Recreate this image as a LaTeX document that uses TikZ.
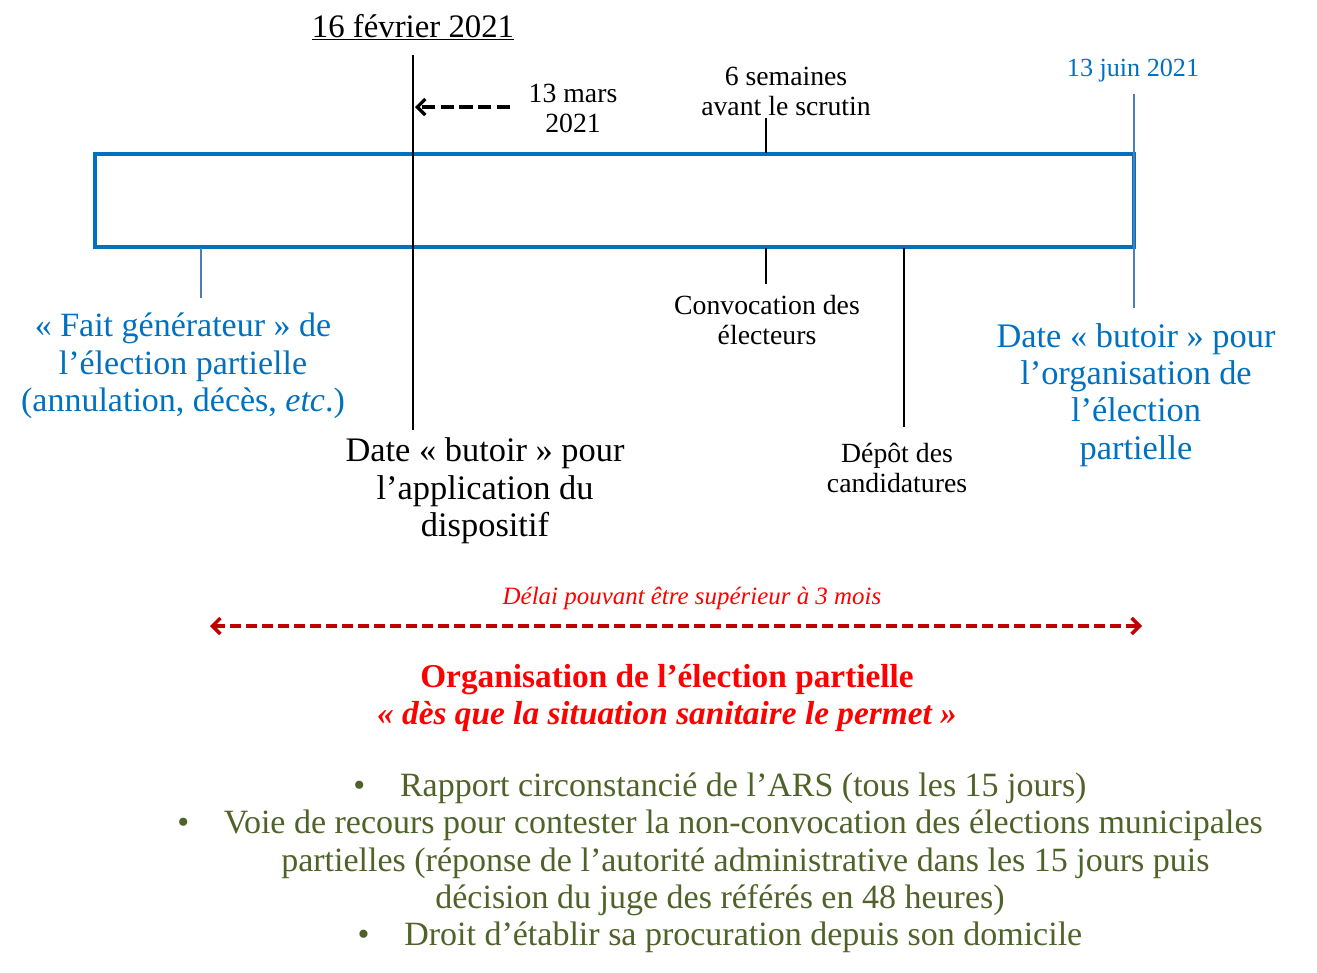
\documentclass[tikz,border=0pt]{standalone}
\usepackage{fontspec}
\setmainfont{Liberation Serif}
\usepackage{xcolor}
\definecolor{boxblue}{RGB}{0,112,192}
\definecolor{tickblue}{RGB}{74,126,187}
\definecolor{arrowred}{RGB}{192,0,0}
\definecolor{olivegreen}{RGB}{79,98,40}
\usetikzlibrary{positioning,calc,arrows.meta}

\begin{document}
\begin{tikzpicture}[x=0.75pt,y=-0.75pt,
    smalllbl/.style={align=center,inner sep=0pt,font=\fontsize{20.8}{22.5}\selectfont},
    biglbl/.style={align=center,inner sep=0pt,font=\fontsize{25.8}{28}\selectfont},
    blacktick/.style={line width=1.5pt},
    bluetick/.style={tickblue,line width=1.2pt}]
    \useasboundingbox (0,0) rectangle (1317,972);

    % Timeline box
    \draw[boxblue,line width=3pt] (95,154) rectangle (1134,247);

    % 16 fevrier
    \node[inner sep=0pt,font=\fontsize{24.6}{28}\selectfont] (feb) at (413,27) {\underline{16 février 2021}};
    \coordinate (feb top) at (413,55);
    \coordinate (feb bot) at (413,430);
    \draw[blacktick] (feb top) -- (feb bot);
    \node[smalllbl] (mars) at (573,108) {13 mars\\2021};
    \coordinate (mars tail) at (510,107);
    \coordinate (mars head) at (415,107);
    \draw[line width=2.5pt,dash pattern=on 10pt off 4pt,-{Straight Barb[length=6pt,width=12pt]}] (mars tail) -- (mars head);
    \node[biglbl] (butoir) at (485,491) {Date « butoir » pour\\l’application du\\dispositif};

    % Fait generateur
    \coordinate (fait top) at (201,248);
    \coordinate (fait bot) at (201,298);
    \draw[bluetick] (fait top) -- (fait bot);
    \node[biglbl,text=boxblue,font=\fontsize{25.5}{28}\selectfont] (fait) at (183,366) {« Fait générateur » de\\l’élection partielle\\(annulation, décès, \textit{etc}.)};

    % 6 semaines / convocation
    \node[smalllbl] (semaines) at (786,91) {6 semaines\\avant le scrutin};
    \coordinate (sem top) at (766,118);
    \coordinate (sem bot) at (766,153);
    \draw[blacktick] (sem top) -- (sem bot);
    \coordinate (conv top) at (766,248);
    \coordinate (conv bot) at (766,284);
    \draw[blacktick] (conv top) -- (conv bot);
    \node[smalllbl] (convocation) at (767,320) {Convocation des\\électeurs};

    % Depot
    \coordinate (depot top) at (904,248);
    \coordinate (depot bot) at (904,427);
    \draw[blacktick] (depot top) -- (depot bot);
    \node[smalllbl] (depot) at (897,468) {Dépôt des\\candidatures};

    % 13 juin
    \node[smalllbl,text=boxblue,font=\fontsize{19.6}{22.5}\selectfont] (juin) at (1133,71) {13 juin 2021};
    \coordinate (juin top) at (1134,94);
    \coordinate (juin bot) at (1134,308);
    \draw[bluetick] (juin top) -- (juin bot);
    \node[biglbl,text=boxblue] (orga) at (1136,395) {Date « butoir » pour\\l’organisation de\\l’élection\\partielle};

    % Delai
    \node[inner sep=0pt,text=red,font=\fontsize{18.7}{21}\selectfont\itshape] (delai) at (692,598) {Délai pouvant être supérieur à 3 mois};
    \coordinate (delai left) at (210,626);
    \coordinate (delai right) at (1142,626);
    \draw[arrowred,line width=2.6pt,dash pattern=on 8pt off 4pt,{Straight Barb[length=6pt,width=12pt]}-{Straight Barb[length=6pt,width=12pt]}] (delai left) -- (delai right);

    \node[align=center,inner sep=0pt,text=red,font=\fontsize{25}{28}\selectfont\bfseries] (partielle) at (667,698)
        {Organisation de l’élection partielle\\\textit{« dès que la situation sanitaire le permet »}};

    % Bullets
    \node[align=center,inner sep=0pt,text=olivegreen,font=\fontsize{25.5}{28}\selectfont] (bullets) at (720,863)
        {\textbullet\hspace{26pt}Rapport circonstancié de l’ARS (tous les 15 jours)\\
         \textbullet\hspace{26pt}Voie de recours pour contester la non-convocation des élections municipales\\
         \hspace*{38pt}partielles (réponse de l’autorité administrative dans les 15 jours puis\\
         décision du juge des référés en 48 heures)\\
         \textbullet\hspace{26pt}Droit d’établir sa procuration depuis son domicile};
\end{tikzpicture}
\end{document}
